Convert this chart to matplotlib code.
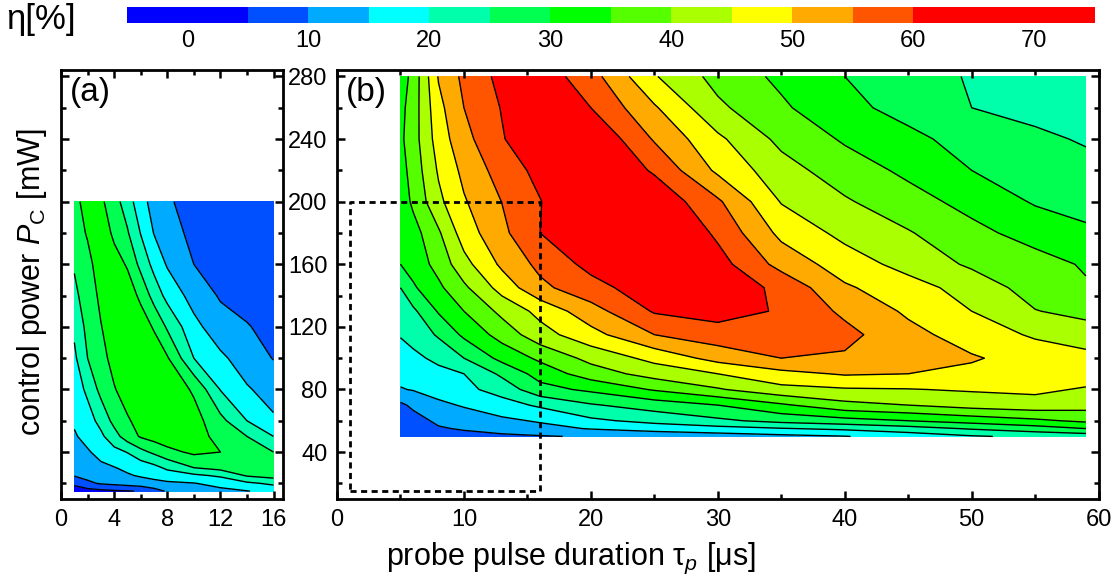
import numpy as np
import matplotlib
matplotlib.use('Agg')
import matplotlib.pyplot as plt
from matplotlib.colors import ListedColormap, BoundaryNorm
from matplotlib.ticker import MultipleLocator

plt.rcParams['font.family'] = ['Liberation Sans', 'DejaVu Sans']
plt.rcParams['mathtext.fontset'] = 'custom'
plt.rcParams['mathtext.rm'] = 'Liberation Sans'
plt.rcParams['mathtext.it'] = 'Liberation Sans:italic'

# colour classes of eta [%]
levels = [-5, 5, 10, 15, 20, 25, 30, 35, 40, 45, 50, 55, 60, 75]
line_levels = [5, 10, 15, 20, 25, 30, 35, 40, 45, 50, 55, 60]
colors = ['#0000ff', '#0050ff', '#00aaff', '#00ffff', '#00ffaa', '#00ff50',
          '#00ff00', '#55ff00', '#aaff00', '#ffff00', '#ffaa00', '#ff5500', '#ff0000']
cbar_ticks = [0, 10, 20, 30, 40, 50, 60, 70]

# panel (a): probe pulse duration [us] x control power [mW]
tau_a = [1, 2, 3, 4, 5, 6, 7, 8, 10, 12, 14, 16]
pc_a = [15, 20, 25, 30, 40, 50, 60, 80, 100, 120, 140, 160, 180, 200]
eta_a = [
    [2.0, 3.0, 3.8, 4.3, 4.7, 5.3, 8.0, 10.5, 12.5, 13.8, 14.8, 16.5],
    [6.2, 9.0, 10.5, 11.2, 12.0, 12.8, 13.5, 14.2, 14.8, 16.5, 19.0, 21.0],
    [10.3, 11.5, 12.5, 13.5, 14.5, 15.5, 16.5, 17.5, 19.0, 20.8, 25.5, 27.0],
    [11.5, 13.0, 14.0, 14.8, 16.0, 17.0, 18.5, 21.0, 25.0, 26.7, 27.5, 28.0],
    [13.0, 14.5, 16.5, 18.5, 20.2, 23.5, 26.0, 28.5, 31.0, 30.0, 27.5, 25.0],
    [14.5, 16.5, 19.0, 23.0, 27.5, 30.5, 32.0, 33.0, 32.0, 28.5, 25.0, 20.0],
    [15.6, 18.0, 21.5, 26.5, 29.5, 31.5, 33.0, 33.5, 32.0, 26.5, 20.0, 15.7],
    [17.5, 21.0, 26.5, 29.7, 32.0, 33.5, 34.0, 33.5, 29.3, 19.8, 15.5, 13.0],
    [19.0, 25.0, 28.5, 31.5, 33.5, 34.0, 33.0, 30.5, 20.0, 16.0, 12.5, 9.8],
    [21.0, 26.5, 29.8, 32.5, 33.5, 32.5, 29.5, 24.3, 16.5, 12.0, 10.3, 8.5],
    [23.8, 27.5, 31.0, 33.0, 32.5, 29.0, 23.0, 18.5, 13.0, 9.5, 8.3, 7.5],
    [25.5, 28.5, 32.5, 32.0, 29.5, 23.5, 18.5, 14.5, 10.0, 8.5, 7.5, 7.0],
    [27.5, 30.5, 33.0, 29.0, 25.5, 19.8, 14.8, 12.0, 8.8, 7.8, 7.2, 6.8],
    [28.5, 32.0, 31.0, 27.0, 22.5, 16.8, 13.2, 10.5, 8.5, 7.5, 7.0, 6.5],
]

# panel (b)
tau_b = [5, 6, 8, 10, 13, 16, 20, 25, 30, 35, 40, 45, 50, 55, 59]
pc_b = [50, 55, 60, 70, 80, 90, 100, 115, 130, 145, 160, 180, 200, 220, 240, 260, 280]
eta_b = [
    [5.5, 6.0, 7.5, 8.3, 9.0, 9.6, 10.5, 11.5, 12.5, 13.7, 14.8, 17.0, 19.5, 21.0, 22.0],
    [6.0, 6.8, 9.5, 10.5, 12.0, 13.5, 15.3, 17.0, 18.3, 19.7, 21.0, 23.0, 25.5, 27.8, 30.0],
    [6.5, 8.0, 11.0, 12.0, 14.0, 15.5, 19.0, 21.5, 24.0, 26.5, 28.2, 30.0, 32.0, 34.0, 36.0],
    [9.0, 11.0, 13.8, 15.5, 18.0, 20.8, 24.5, 27.3, 30.0, 34.2, 38.5, 40.0, 42.0, 43.0, 42.0],
    [14.7, 15.3, 17.2, 18.7, 22.0, 28.3, 31.0, 35.5, 39.5, 43.5, 44.5, 44.8, 45.5, 46.0, 44.5],
    [16.5, 17.3, 18.8, 20.0, 26.0, 32.0, 37.5, 42.0, 45.0, 48.5, 50.5, 50.0, 48.8, 48.0, 47.5],
    [18.0, 19.0, 21.0, 25.0, 31.5, 36.0, 41.5, 46.5, 51.8, 55.0, 54.3, 52.5, 50.5, 48.0, 46.5],
    [20.3, 21.5, 25.7, 31.0, 37.0, 43.0, 48.3, 55.0, 57.8, 58.0, 56.5, 51.5, 47.8, 44.3, 42.5],
    [22.7, 24.0, 30.5, 35.0, 41.3, 46.5, 53.0, 60.5, 62.0, 59.5, 54.0, 49.2, 45.0, 40.2, 38.5],
    [25.0, 29.3, 34.0, 39.0, 47.0, 53.8, 58.2, 63.0, 63.5, 58.7, 50.7, 47.0, 43.0, 37.8, 35.5],
    [30.0, 32.0, 36.7, 43.3, 51.0, 56.3, 61.5, 66.0, 62.0, 53.3, 47.5, 43.3, 39.2, 36.8, 34.5],
    [31.0, 33.0, 39.3, 47.4, 53.8, 60.0, 66.0, 67.0, 59.0, 48.7, 43.6, 40.4, 36.3, 33.2, 31.0],
    [32.0, 36.0, 43.8, 49.5, 55.1, 59.8, 66.0, 64.0, 55.8, 44.7, 40.6, 36.8, 33.5, 29.5, 28.0],
    [33.0, 37.0, 45.6, 51.3, 57.2, 61.5, 66.0, 59.3, 49.0, 42.0, 37.4, 34.0, 30.0, 27.8, 26.5],
    [34.0, 37.8, 47.3, 53.4, 59.6, 64.5, 65.0, 54.5, 46.0, 38.7, 34.4, 31.1, 28.3, 26.0, 24.5],
    [33.5, 37.5, 48.5, 55.0, 60.3, 64.0, 60.0, 50.6, 41.0, 35.8, 31.2, 28.5, 25.0, 23.5, 22.5],
    [32.0, 36.8, 50.4, 56.2, 61.5, 63.0, 57.0, 45.4, 38.3, 33.9, 30.0, 27.0, 24.6, 23.0, 22.0],
]

# region of panel (a) marked in panel (b)
box_tau = [1, 16]
box_pc = [15, 200]

cmap = ListedColormap(colors)
norm = BoundaryNorm(levels, cmap.N)

fig = plt.figure(figsize=(11.2, 5.85), dpi=100)
ax_a = fig.add_axes([0.0545, 0.147, 0.198, 0.733])
ax_b = fig.add_axes([0.3009, 0.147, 0.680, 0.733])
cax = fig.add_axes([0.1134, 0.961, 0.864, 0.027])

for ax, x, y, z in [(ax_a, tau_a, pc_a, eta_a), (ax_b, tau_b, pc_b, eta_b)]:
    cf = ax.contourf(x, y, np.array(z), levels=levels, cmap=cmap, norm=norm)
    ax.contour(x, y, np.array(z), levels=line_levels, colors='black', linewidths=1.0)
    ax.set_ylim(10, 284)
    ax.yaxis.set_major_locator(MultipleLocator(40))
    ax.yaxis.set_minor_locator(MultipleLocator(20))
    ax.tick_params(which='both', direction='in', top=True, right=True, width=1.8,
                   labelsize=17, pad=7)
    ax.tick_params(which='major', length=6)
    ax.tick_params(which='minor', length=3.5)
    for s in ax.spines.values():
        s.set_linewidth(2.0)

ax_a.set_xlim(0, 16.7)
ax_a.xaxis.set_major_locator(MultipleLocator(4))
ax_a.xaxis.set_minor_locator(MultipleLocator(2))
ax_a.set_yticklabels([])
ax_a.text(0.04, 0.985, '(a)', transform=ax_a.transAxes, fontsize=24, va='top', ha='left')

ax_b.set_xlim(0, 60)
ax_b.xaxis.set_major_locator(MultipleLocator(10))
ax_b.xaxis.set_minor_locator(MultipleLocator(5))
ax_b.text(0.012, 0.985, '(b)', transform=ax_b.transAxes, fontsize=24, va='top', ha='left')
ax_b.plot([box_tau[0], box_tau[1], box_tau[1], box_tau[0], box_tau[0]],
          [box_pc[0], box_pc[0], box_pc[1], box_pc[1], box_pc[0]],
          color='black', lw=2.0, ls=(0, (2.2, 1.6)))

cb = fig.colorbar(cf, cax=cax, orientation='horizontal', spacing='proportional',
                  ticks=cbar_ticks)
cb.outline.set_visible(False)
cb.ax.minorticks_off()
cax.tick_params(which='both', length=0, labelsize=17, pad=5)
fig.text(0.006, 0.995, 'η[%]', fontsize=25, va='top', ha='left')

fig.text(0.029, 0.518, r'control power $P_\mathrm{C}$ [mW]', rotation=90,
         fontsize=22, va='center', ha='center')
fig.text(0.51, 0.046, r'probe pulse duration τ$_{p}$ [μs]', fontsize=22,
         va='center', ha='center')

fig.savefig('out.png', dpi=100)
